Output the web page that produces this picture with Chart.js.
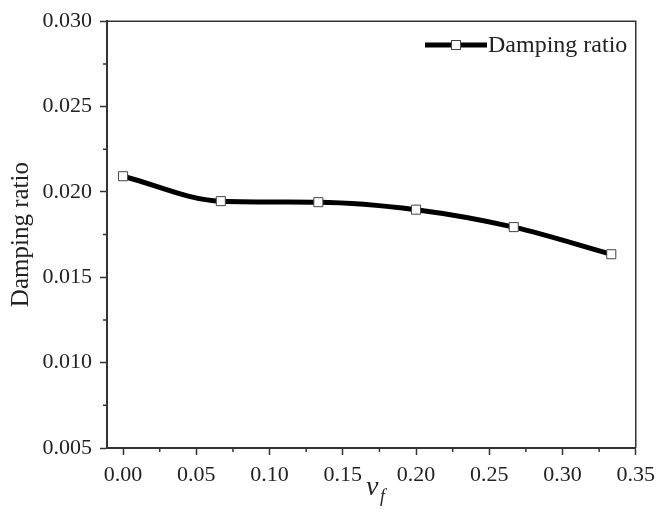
<!DOCTYPE html>
<html>
<head>
<meta charset="utf-8">
<script src="https://cdn.jsdelivr.net/npm/chart.js@4.4.0/dist/chart.umd.min.js"></script>
<style>
  html, body { margin: 0; padding: 0; background: #fff; }
  #wrap { width: 662px; height: 515px; }
</style>
</head>
<body>
<div id="wrap"><canvas id="chart"></canvas></div>
<script>
// data
const vf = [0, 0.0667, 0.1333, 0.2, 0.2667, 0.3333];
const damping = [0.02092, 0.01946, 0.0194, 0.01896, 0.01794, 0.01635];
const xTicks = [0, 0.05, 0.10, 0.15, 0.20, 0.25, 0.30, 0.35];
const yTicks = [0.005, 0.010, 0.015, 0.020, 0.025, 0.030];
const seriesLabel = 'Damping ratio';

const FONT = '"Liberation Serif", "Times New Roman", serif';
const INK = '#222';

// frame, minor ticks, legend and the v_f title
const decorations = {
  id: 'decorations',
  afterDraw(chart) {
    const ctx = chart.ctx;
    const area = chart.chartArea;
    const x = chart.scales.x, y = chart.scales.y;
    ctx.save();
    ctx.strokeStyle = '#333';
    ctx.lineWidth = 1.5;
    ctx.beginPath();
    ctx.moveTo(area.left, area.top);
    ctx.lineTo(area.right, area.top);
    ctx.lineTo(area.right, area.bottom);
    ctx.stroke();

    // minor ticks
    ctx.beginPath();
    for (let i = 0; i < xTicks.length - 1; i++) {
      const px = x.getPixelForValue((xTicks[i] + xTicks[i + 1]) / 2);
      ctx.moveTo(px, area.bottom);
      ctx.lineTo(px, area.bottom + 4);
    }
    for (let i = 0; i < yTicks.length - 1; i++) {
      const py = y.getPixelForValue((yTicks[i] + yTicks[i + 1]) / 2);
      ctx.moveTo(area.left, py);
      ctx.lineTo(area.left - 4, py);
    }
    ctx.stroke();

    // legend
    const ly = 45;
    ctx.strokeStyle = '#000';
    ctx.lineWidth = 5;
    ctx.beginPath();
    ctx.moveTo(425, ly);
    ctx.lineTo(487, ly);
    ctx.stroke();
    ctx.fillStyle = '#fff';
    ctx.strokeStyle = '#444';
    ctx.lineWidth = 1;
    ctx.fillRect(451.5, ly - 4.5, 9, 9);
    ctx.strokeRect(451.5, ly - 4.5, 9, 9);
    ctx.fillStyle = INK;
    ctx.font = '24px ' + FONT;
    ctx.textBaseline = 'middle';
    ctx.textAlign = 'left';
    ctx.fillText(chart.data.datasets[0].label, 488, ly + 1);

    // x title v_f
    ctx.textBaseline = 'alphabetic';
    ctx.font = 'italic 28px ' + FONT;
    ctx.fillText('v', 366, 495);
    ctx.font = 'italic 18px ' + FONT;
    ctx.fillText('f', 380, 502);
    ctx.restore();
  }
};

new Chart(document.getElementById('chart'), {
  type: 'line',
  data: {
    datasets: [{
      label: seriesLabel,
      data: vf.map((v, i) => ({ x: v, y: damping[i] })),
      borderColor: '#000',
      borderWidth: 5,
      cubicInterpolationMode: 'monotone',
      pointStyle: 'rect',
      pointRadius: 6.4,
      pointBackgroundColor: '#fff',
      pointBorderColor: '#444',
      pointBorderWidth: 1,
      clip: false
    }]
  },
  options: {
    responsive: true,
    maintainAspectRatio: false,
    animation: false,
    layout: { padding: { top: 20, right: 23, left: 0, bottom: 0 } },
    plugins: {
      legend: { display: false },
      tooltip: { enabled: false }
    },
    scales: {
      x: {
        type: 'linear',
        min: -0.011,
        max: 0.35,
        afterBuildTicks: s => { s.ticks = xTicks.map(v => ({ value: v })); },
        afterFit: s => { s.height = 67; },
        border: { color: '#333', width: 2 },
        grid: { drawOnChartArea: false, tickLength: 7, tickColor: '#333', tickWidth: 1.5 },
        ticks: {
          color: INK,
          font: { family: FONT, size: 22 },
          padding: 7,
          maxRotation: 0,
          callback: v => v.toFixed(2)
        }
      },
      y: {
        min: 0.005,
        max: 0.030,
        afterBuildTicks: s => { s.ticks = yTicks.map(v => ({ value: v })); },
        afterFit: s => { s.width = 107; },
        border: { color: '#333', width: 2 },
        grid: { drawOnChartArea: false, tickLength: 7, tickColor: '#333', tickWidth: 1.5 },
        ticks: {
          color: INK,
          font: { family: FONT, size: 22 },
          padding: 8,
          callback: v => v.toFixed(3)
        },
        title: {
          display: true,
          text: seriesLabel,
          color: INK,
          font: { family: FONT, size: 25 },
          padding: { top: 6, bottom: 0 }
        }
      }
    }
  },
  plugins: [decorations]
});
</script>
</body>
</html>
